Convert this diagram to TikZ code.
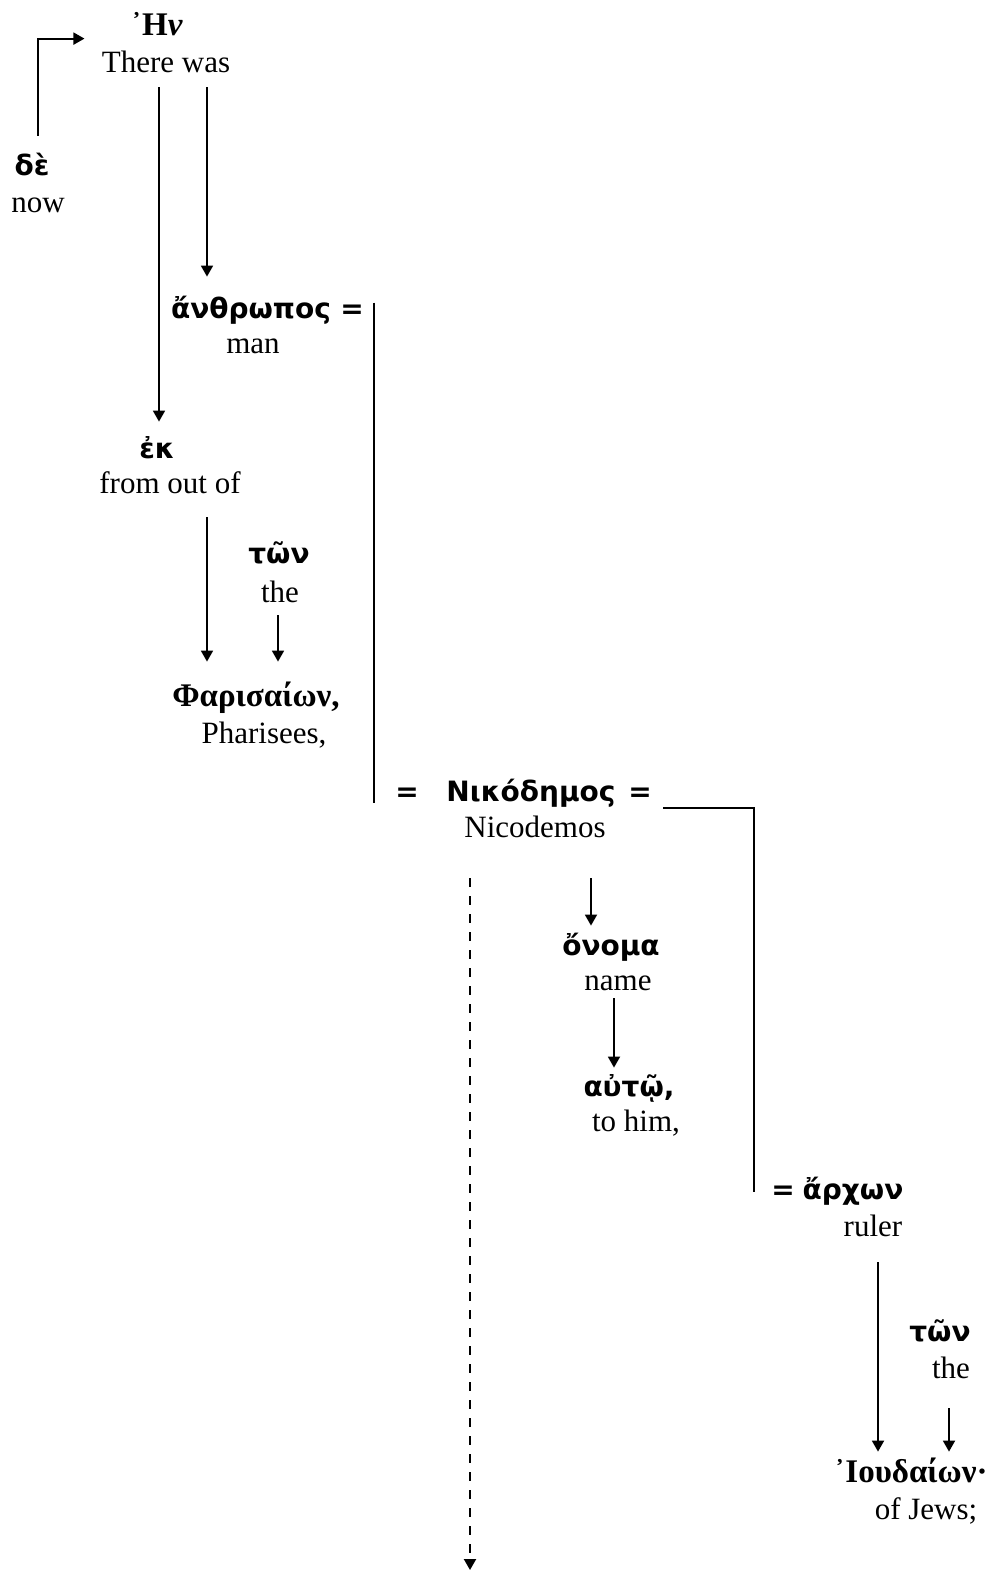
\documentclass[tikz,border=0pt]{standalone}
\usepackage{fontspec}
\setmainfont{Liberation Serif}
\newfontfamily\grk{DejaVu Sans}
\usetikzlibrary{arrows.meta}

\begin{document}
\begin{tikzpicture}[x=0.5pt,y=-0.5pt]
			\tikzset{gk/.style={anchor=base,inner sep=0pt,text height=10.5pt,text depth=3.5pt,font=\grk\bfseries\fontsize{14}{16}\selectfont}}
			\tikzset{gs/.style={gk,font=\rmfamily\bfseries\fontsize{16.5}{18}\selectfont}}
			\tikzset{en/.style={anchor=base,inner sep=0pt,text height=11pt,text depth=3.5pt,font=\rmfamily\fontsize{15.5}{18}\selectfont}}
			\tikzset{link/.style={line width=0.9pt,-{Triangle[length=5.5pt,width=6pt]}}}
			\tikzset{bar/.style={line width=0.9pt}}
			\tikzset{dashlink/.style={link,line width=1pt,dash pattern=on 4.5pt off 4.5pt}}
			\useasboundingbox (0,0) rectangle (993,1570);
			\node[gs] (hn) at (157,35) {᾿Η\textit{ν}};
			\node[en] (hn-en) at (166,72) {There was};
			\node[gk] (de) at (32,175) {δὲ};
			\node[en] (de-en) at (38,212) {now};
			\node[gk] (anth) at (251,318) {ἄνθρωπος};
			\node[gk] (eq1) at (352,318) {=};
			\node[en] (anth-en) at (253,353) {man};
			\node[gk] (ek) at (157,458) {ἐκ};
			\node[en] (ek-en) at (170,493) {from out of};
			\node[gk] (ton1) at (279,563) {τῶν};
			\node[en] (ton1-en) at (280,602) {the};
			\node[gs] (phar) at (256,706) {Φαρισαίων,};
			\node[en] (phar-en) at (264,743) {Pharisees,};
			\node[gk] (eq2) at (407,801) {=};
			\node[gk] (nik) at (531,801) {Νικόδημος};
			\node[gk] (eq3) at (640,801) {=};
			\node[en] (nik-en) at (535,837) {Nicodemos};
			\node[gk] (onoma) at (611,955) {ὄνομα};
			\node[en] (onoma-en) at (618,990) {name};
			\node[gk] (auto) at (629,1096) {αὐτῷ,};
			\node[en] (auto-en) at (636,1131) {to him,};
			\node[gk] (eq4) at (783,1199) {=};
			\node[gk] (arch) at (853,1199) {ἄρχων};
			\node[en] (arch-en) at (873,1236) {ruler};
			\node[gk] (ton2) at (940,1341) {τῶν};
			\node[en] (ton2-en) at (951,1378) {the};
			\node[gs] (iou) at (911,1482) {᾿Ιουδαίων·};
			\node[en] (iou-en) at (926,1519) {of Jews;};
			\coordinate (dashend) at (470,1570);
			\draw[link,shorten <=9pt] (de.north -| de-en.north) |- ([shift={(-8.5pt,5.5pt)}]hn-en.north west);
			\draw[link,shorten <=4pt,shorten >=7.5pt] ([xshift=-3.5pt]hn-en.south) -- ([xshift=-3.5pt]hn-en.south |- ek.north);
			\draw[link,shorten <=4pt,shorten >=10pt] ([xshift=20.5pt]hn-en.south) -- ([xshift=20.5pt]hn-en.south |- anth.north);
			\draw[bar] ([shift={(11pt,-3pt)}]eq1.north) -- ([shift={(11pt,-1pt)}]eq1.north |- eq2.base);
			\draw[link,shorten <=8.5pt,shorten >=11.5pt] ([xshift=18.5pt]ek-en.south) -- ([xshift=18.5pt]ek-en.south |- phar.north);
			\draw[link,shorten <=3pt,shorten >=11.5pt] ([xshift=-1pt]ton1-en.south) -- ([xshift=-1pt]ton1-en.south |- phar.north);
			\draw[bar] ([shift={(5.5pt,-3.5pt)}]eq3.base east) -| ([shift={(-8.5pt,3.5pt)}]eq4.base west);
			\draw[link,shorten <=17pt,shorten >=4pt] ([xshift=28pt]nik-en.south) -- ([xshift=28pt]nik-en.south |- onoma.north);
			\draw[dashlink,shorten <=17pt] ([xshift=-32.5pt]nik-en.south) -- (dashend);
			\draw[link,shorten <=0.5pt,shorten >=3.5pt] ([xshift=-2pt]onoma-en.south) -- ([xshift=-2pt]onoma-en.south |- auto.north);
			\draw[link,shorten <=9.5pt,shorten >=4.5pt] ([xshift=2.5pt]arch-en.south) -- ([xshift=2.5pt]arch-en.south |- iou.north);
			\draw[link,shorten <=11.5pt,shorten >=4.5pt] ([xshift=-1pt]ton2-en.south) -- ([xshift=-1pt]ton2-en.south |- iou.north);
		\end{tikzpicture}
\end{document}
